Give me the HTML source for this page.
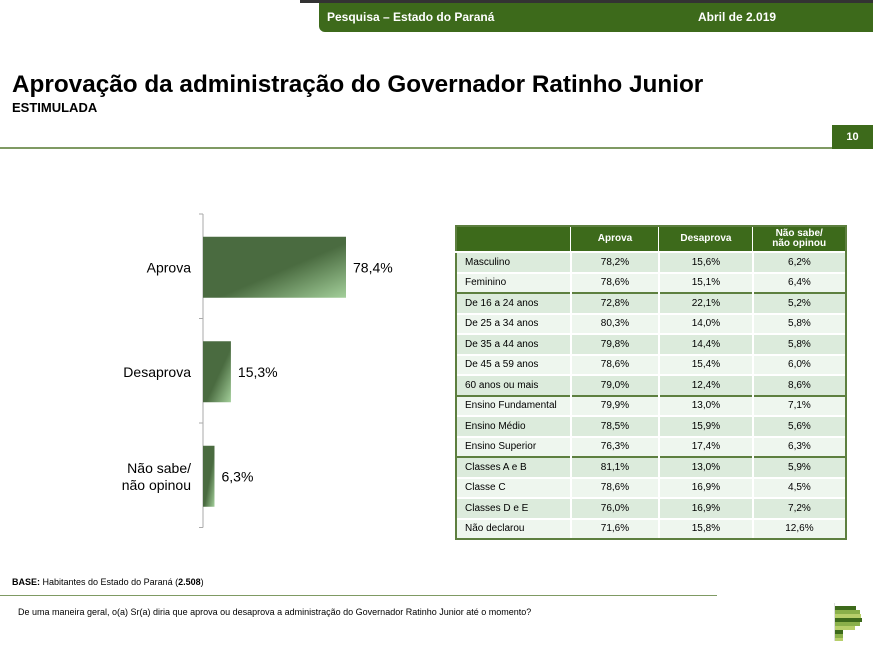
<!DOCTYPE html>
<html><head><meta charset="utf-8">
<style>
body{margin:0;width:873px;height:652px;background:#fff;position:relative;overflow:hidden;font-family:"Liberation Sans",Arial,sans-serif;}
.abs{position:absolute;}
table{border-collapse:collapse;}
</style></head>
<body>
<div class="abs" style="left:300px;top:0;width:573px;height:3px;background:#333;"></div>
<div class="abs" style="left:319px;top:3px;width:554px;height:29px;background:#3d6a1b;border-bottom-left-radius:6px;"></div>
<div class="abs" style="left:327px;top:10px;color:#fff;font-weight:bold;font-size:12px;">Pesquisa – Estado do Paraná</div>
<div class="abs" style="left:698px;top:10px;color:#fff;font-weight:bold;font-size:12px;">Abril de 2.019</div>
<div class="abs" style="left:12px;top:71px;font-weight:bold;font-size:24.3px;color:#000;">Aprovação da administração do Governador Ratinho Junior</div>
<div class="abs" style="left:12px;top:100px;font-weight:bold;font-size:13px;color:#000;">ESTIMULADA</div>
<div class="abs" style="left:0;top:147px;width:832px;height:2px;background:#7f9a63;"></div>
<div class="abs" style="left:832px;top:125px;width:41px;height:24px;background:#3d6a1b;color:#fff;font-weight:bold;font-size:11px;text-align:center;line-height:24px;">10</div>

<svg class="abs" style="left:0;top:0" width="873" height="652">
<defs><linearGradient id="g" x1="0" y1="0" x2="1" y2="1">
<stop offset="0" stop-color="#4a6b40"/><stop offset="0.55" stop-color="#4a6b40"/><stop offset="1" stop-color="#a3cf9a"/></linearGradient></defs>
<g id="chart"></g>
</svg>

<div class="abs" style="left:455px;top:225px;" id="tbl"></div>

<div class="abs" style="left:12px;top:577px;font-size:9px;color:#000;"><b>BASE:</b> Habitantes do Estado do Paraná (<b>2.508</b>)</div>
<div class="abs" style="left:0;top:595px;width:717px;height:1px;background:#7f9a63;"></div>
<div class="abs" style="left:18px;top:607px;font-size:9px;color:#000;">De uma maneira geral, o(a) Sr(a) diria que aprova ou desaprova a administração do Governador Ratinho Junior até o momento?</div>
<svg class="abs" style="left:833px;top:603px" width="30" height="40">
<rect x="1" y="0" width="1" height="38" fill="#ddd"/>
<rect x="2" y="3" width="21" height="4" fill="#3d6a1b"/>
<rect x="2" y="7" width="25" height="4" fill="#8ab04a"/>
<rect x="2" y="11" width="26" height="4" fill="#b7cf6a"/>
<rect x="2" y="15" width="27" height="4" fill="#3d6a1b"/>
<rect x="2" y="19" width="25" height="4" fill="#8ab04a"/>
<rect x="2" y="23" width="20" height="4" fill="#b7cf6a"/>
<rect x="2" y="27" width="8" height="4" fill="#3d6a1b"/>
<rect x="2" y="31" width="8" height="4" fill="#8ab04a"/>
<rect x="2" y="35" width="8" height="3" fill="#b7cf6a"/>
</svg>

<script>
const categories=[["Aprova"],["Desaprova"],["Não sabe/","não opinou"]];
const values=[78.4,15.3,6.3];
const valueLabels=["78,4%","15,3%","6,3%"];

const tblHeaders=["","Aprova","Desaprova","Não sabe/<br>não opinou"];
const rowLabels=["Masculino","Feminino","De 16 a 24 anos","De 25 a 34 anos","De 35 a 44 anos","De 45 a 59 anos","60 anos ou mais","Ensino Fundamental","Ensino Médio","Ensino Superior","Classes A e B","Classe C","Classes D e E","Não declarou"];
const aprovaCol=["78,2%","78,6%","72,8%","80,3%","79,8%","78,6%","79,0%","79,9%","78,5%","76,3%","81,1%","78,6%","76,0%","71,6%"];
const desaprovaCol=["15,6%","15,1%","22,1%","14,0%","14,4%","15,4%","12,4%","13,0%","15,9%","17,4%","13,0%","16,9%","16,9%","15,8%"];
const naoSabeCol=["6,2%","6,4%","5,2%","5,8%","5,8%","6,0%","8,6%","7,1%","5,6%","6,3%","5,9%","4,5%","7,2%","12,6%"];
const groupStarts=[2,7,10];

const NS="http://www.w3.org/2000/svg";
const g=document.getElementById("chart");
const x0=203, scale=143/78.4, chartTop=214, band=104.5, barH=61;
function xs(v){return x0+v*scale;}
function yb(i){return chartTop+i*band;}
function mk(t,a){const e=document.createElementNS(NS,t);for(const k in a)e.setAttribute(k,a[k]);g.appendChild(e);return e;}
const ax=mk("line",{x1:x0,y1:chartTop,x2:x0,y2:yb(3),stroke:"#aaa","stroke-width":1});


for(let i=0;i<=categories.length;i++){
  const t=mk("line",{x1:x0-4,y1:yb(i),x2:x0,y2:yb(i),stroke:"#aaa"});
  
  
}
values.forEach((v,i)=>{
  const yc=yb(i)+band/2;
  const r=mk("rect",{x:x0,y:yc-barH/2+1,width:xs(v)-x0,height:barH,fill:"url(#g)"});
  
  
  const vl=mk("text",{x:xs(v)+7,y:yc+6,"font-size":"14","font-family":"Liberation Sans, sans-serif",fill:"#000"});
  vl.textContent=valueLabels[i];
  
  
  const lines=categories[i];
  lines.forEach((l,j)=>{
    const tl=mk("text",{x:191,y:yc+6+(j-(lines.length-1)/2)*17,"text-anchor":"end","font-size":"14","font-family":"Liberation Sans, sans-serif",fill:"#000"});
    tl.textContent=l;
    
    
  });
});

const GB='2px solid #5d7f3f';
let h='<table style="width:392px;font-size:10px;border:'+GB+';">';
h+='<tr style="height:26px;background:#3d6a1b;color:#fff;font-weight:bold;">';
const widths=[115,89,94,94];
tblHeaders.forEach((t,i)=>{h+='<th style="width:'+widths[i]+'px;border-right:'+(i==3?GB:'1px solid #fff')+';border-top:'+GB+';font-size:10px;line-height:10px;">'+t+'</th>';});
h+='</tr>';
rowLabels.forEach((l,i)=>{
  const bg=i%2==0?'#dcebdc':'#eef6ee';
  let bt=groupStarts.includes(i)?'border-top:'+GB+';':'border-top:2px solid #fff;';
  if(i==rowLabels.length-1) bt+='border-bottom:'+GB+';';
  h+='<tr style="height:20.5px;background:'+bg+';">';
  h+='<td style="padding-left:8px;'+bt+'border-left:'+GB+';border-right:2px solid #fff;">'+l+'</td>';
  [aprovaCol,desaprovaCol,naoSabeCol].forEach((c,k)=>{h+='<td style="text-align:center;'+bt+'border-right:'+(k==2?GB:'2px solid #fff')+';">'+c[i]+'</td>';});
  h+='</tr>';
});
h+='</table>';
document.getElementById("tbl").innerHTML=h;
</script>
</body></html>
